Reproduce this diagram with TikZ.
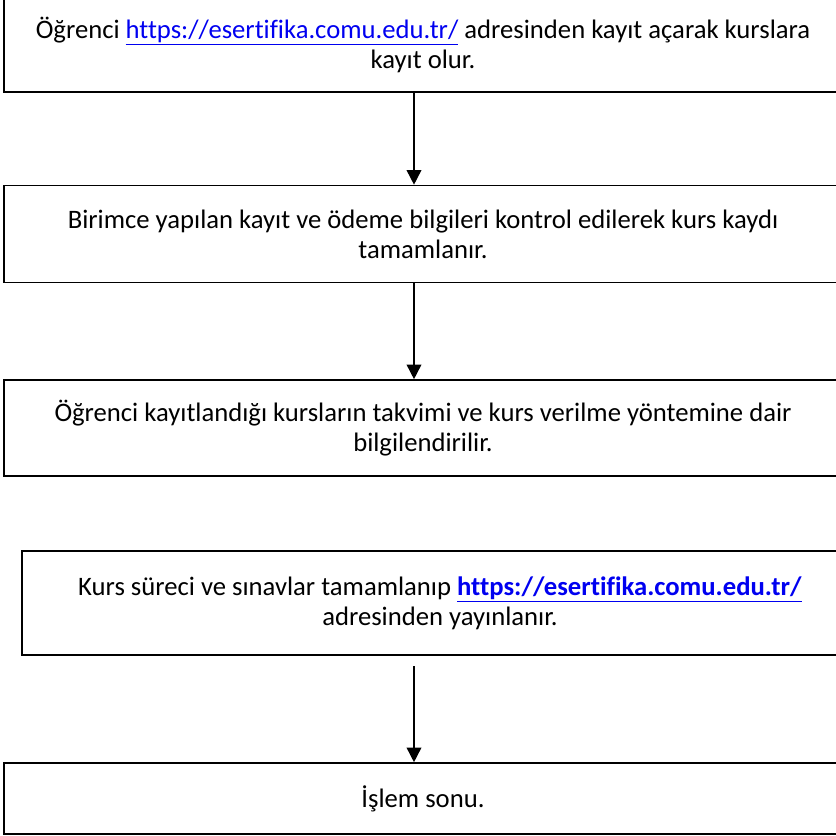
\documentclass[tikz,border=0pt]{standalone}
\usepackage{fontspec}
\setmainfont{Carlito}[Ligatures=CommonOff]
\usepackage{xcolor}
\usetikzlibrary{arrows.meta}
\definecolor{linkblue}{RGB}{0,0,240}
\newcommand{\linkurl}[1]{\textcolor{linkblue}{\underline{#1}}}

\begin{document}
\begin{tikzpicture}[x=0.75pt,y=-0.75pt,
    adim/.style={draw,line width=1.2pt,rectangle,align=center,
      inner sep=0pt,
      font=\fontsize{20}{22.5}\selectfont},
    >={Triangle[length=11pt,width=11pt]}
  ]
  \useasboundingbox (0,0) rectangle (836,836);
  \clip (0,0) rectangle (836,836);
  \coordinate (ok) at (414,0);
  % kutular
  \node[adim,minimum width=628.5pt,minimum height=70.5pt] (kayit) at (423,45)
    {\"{O}ğrenci \linkurl{https://esertifika.comu.edu.tr/} adresinden kayıt açarak kurslara\\ kayıt olur.};
  \node[adim,minimum width=628.5pt,minimum height=72.75pt] (kontrol) at (423,234)
    {Birimce yapılan kayıt ve ödeme bilgileri kontrol edilerek kurs kaydı\\ tamamlanır.};
  \node[adim,minimum width=628.5pt,minimum height=72pt] (bilgi) at (423,428)
    {\"{O}ğrenci kayıtlandığı kursların takvimi ve kurs verilme yöntemine dair\\ bilgilendirilir.};
  \node[adim,minimum width=627pt,minimum height=78pt] (sonuc) at (440,603)
    {Kurs süreci ve sınavlar tamamlanıp \linkurl{\textbf{https://esertifika.comu.edu.tr/}}\\ adresinden yayınlanır.};
  \node[adim,minimum width=628.5pt,minimum height=53.25pt] (son) at (423,798.5)
    {İşlem sonu.};
  \coordinate (bas3) at (414,666);
  % oklar
  \path[->,line width=1.2pt]
  (kayit.south -| ok) edge (kontrol.north -| ok)
  (kontrol.south -| ok) edge (bilgi.north -| ok)
  %(bilgi.south -| ok) edge (sonuc.north -| ok)
  (bas3) edge (son.north -| ok)
  ;
\end{tikzpicture}
\end{document}
